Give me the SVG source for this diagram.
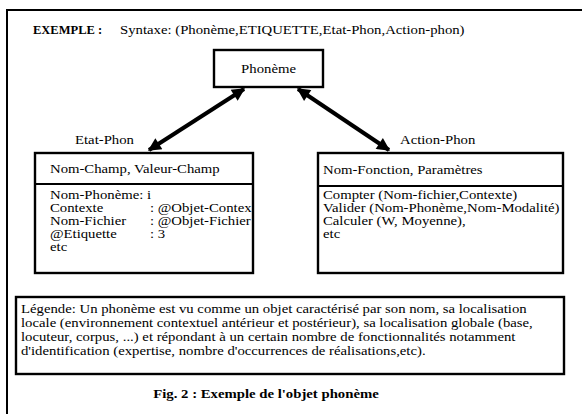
<svg xmlns="http://www.w3.org/2000/svg" width="582" height="414" viewBox="0 0 582 414">
  <style>
    text { font-family: "Liberation Serif", "Times New Roman", serif; fill: #000; font-size: 12.5px; }
    .bold { font-weight: bold; }
    .mid { text-anchor: middle; }
    .frame { fill: none; stroke: #000; stroke-width: 2; }
    .box { fill: #fff; stroke: #000; stroke-width: 2.4; }
    .rule { stroke: #000; stroke-width: 2; }
    .arrow { stroke: #000; stroke-width: 4; fill: none; }
  </style>
  <defs>
    <marker id="head" viewBox="0 0 10 10" refX="9" refY="5" markerWidth="15" markerHeight="13" markerUnits="userSpaceOnUse" orient="auto-start-reverse">
      <path d="M0,0 L10,5 L0,10 z" fill="#000"/>
    </marker>
  </defs>

  <rect width="582" height="414" fill="#fff"/>
  <!-- page frame: top and left edges only -->
  <path class="frame" d="M7,414 V10 H582"/>

  <!-- heading line; text is set slightly wide (scaleX 1.18) throughout -->
  <g id="title">
    <text class="bold" transform="translate(33,34)">EXEMPLE :</text>
    <text transform="translate(120,34) scale(1.18,1)">Syntaxe: (Phonème,ETIQUETTE,Etat-Phon,Action-phon)</text>
  </g>

  <!-- double-headed links between the object and its two parts -->
  <g id="connectors">
    <line class="arrow" x1="244" y1="89" x2="149" y2="150" marker-start="url(#head)" marker-end="url(#head)"/>
    <line class="arrow" x1="298" y1="89" x2="389" y2="150" marker-start="url(#head)" marker-end="url(#head)"/>
    <text transform="translate(75,144) scale(1.18,1)">Etat-Phon</text>
    <text transform="translate(400,144) scale(1.18,1)">Action-Phon</text>
  </g>

  <g id="phoneme">
    <rect class="box" x="214" y="50" width="109" height="37"/>
    <text class="mid" transform="translate(268.5,73) scale(1.18,1)">Phonème</text>
  </g>

  <g id="etat-phon">
    <rect class="box" x="35" y="153" width="218" height="120"/>
    <line class="rule" x1="35" y1="184" x2="253" y2="184"/>
    <text transform="translate(50,173) scale(1.18,1)">Nom-Champ, Valeur-Champ</text>
    <text transform="translate(50,199) scale(1.18,1)">Nom-Phonème: i</text>
    <text transform="translate(50,212) scale(1.18,1)">Contexte</text>
    <text transform="translate(150,212) scale(1.18,1)">: @Objet-Contex</text>
    <text transform="translate(50,225) scale(1.18,1)">Nom-Fichier</text>
    <text transform="translate(150,225) scale(1.18,1)">: @Objet-Fichier</text>
    <text transform="translate(50,238) scale(1.18,1)">@Etiquette</text>
    <text transform="translate(150,238) scale(1.18,1)">:  3</text>
    <text transform="translate(50,251) scale(1.18,1)">etc</text>
  </g>

  <g id="action-phon">
    <rect class="box" x="318" y="153" width="245" height="120"/>
    <line class="rule" x1="318" y1="186" x2="563" y2="186"/>
    <text transform="translate(323,174) scale(1.18,1)">Nom-Fonction, Paramètres</text>
    <text transform="translate(323,199) scale(1.18,1)">Compter (Nom-fichier,Contexte)</text>
    <text transform="translate(323,212) scale(1.18,1)">Valider (Nom-Phonème,Nom-Modalité)</text>
    <text transform="translate(323,225) scale(1.18,1)">Calculer (W, Moyenne),</text>
    <text transform="translate(323,238) scale(1.18,1)">etc</text>
  </g>

  <g id="legende">
    <rect class="box" x="16" y="297" width="548" height="77"/>
    <text transform="translate(21,313) scale(1.18,1)">Légende: Un phonème est vu comme un objet caractérisé par son nom, sa localisation</text>
    <text transform="translate(21,327) scale(1.18,1)">locale (environnement contextuel antérieur et postérieur), sa localisation globale (base,</text>
    <text transform="translate(21,341) scale(1.18,1)">locuteur, corpus, ...) et répondant à un certain nombre de fonctionnalités notamment</text>
    <text transform="translate(21,355) scale(1.18,1)">d'identification (expertise, nombre d'occurrences de réalisations,etc).</text>
  </g>

  <g id="caption">
    <text class="bold mid" transform="translate(266,398) scale(1.18,1)">Fig. 2 : Exemple de l'objet phonème</text>
  </g>
</svg>
